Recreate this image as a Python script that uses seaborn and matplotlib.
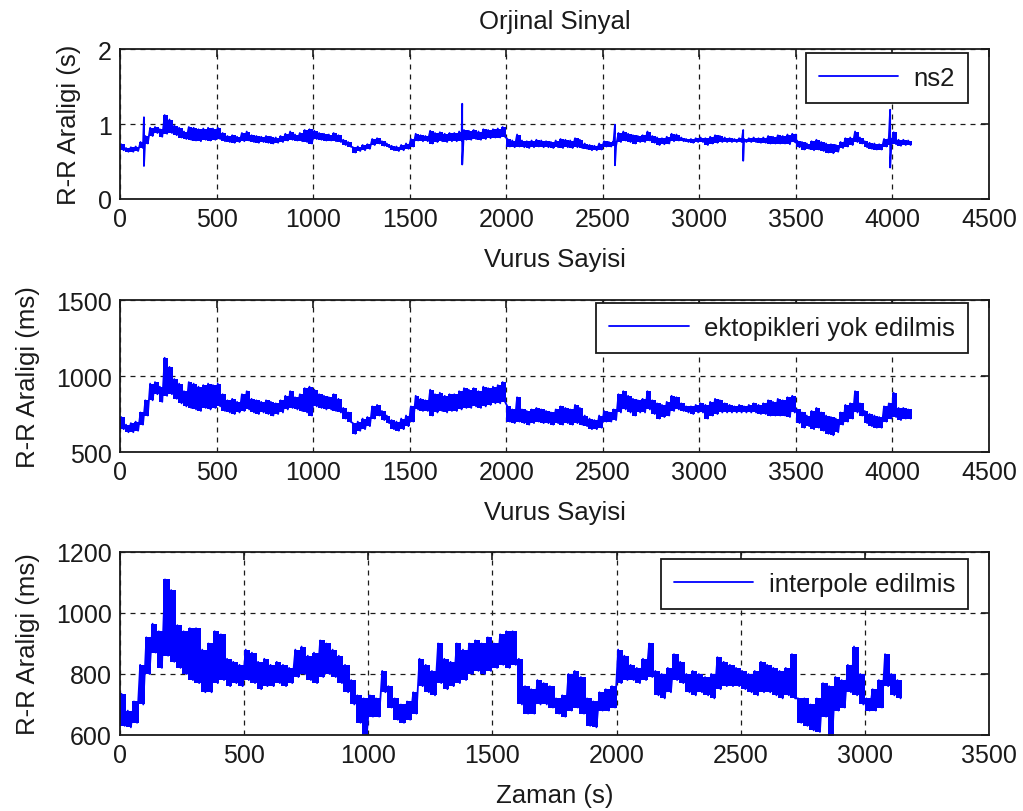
import numpy as np
import pandas as pd
import seaborn as sns
import matplotlib
matplotlib.use("Agg")
import matplotlib.pyplot as plt

# RR intervals (ms) after ectopic removal, band top / bottom per 25-beat bin
rr_hi = [730, 680, 690, 700, 760, 840, 950, 960, 930, 1120, 1060, 980, 950, 900, 960, 950, 930, 940, 950, 940,
         950, 880, 840, 850, 830, 880, 900, 850, 840, 830, 840, 830, 820, 840, 870, 900, 860, 880, 920, 930,
         910, 880, 870, 860, 880, 850, 790, 760, 690, 700, 720, 730, 800, 810, 770, 740, 710, 700, 720, 740,
         800, 870, 850, 840, 910, 880, 890, 870, 880, 880, 900, 920, 910, 920, 900, 930, 920, 930, 940, 960,
         800, 780, 860, 780, 770, 780, 790, 780, 770, 760, 780, 800, 790, 780, 810, 790, 740, 720, 710, 740,
         770, 760, 780, 880, 900, 870, 850, 840, 850, 900, 840, 820, 810, 830, 870, 860, 820, 800, 800, 810,
         820, 810, 830, 850, 840, 820, 810, 800, 810, 800, 810, 820, 810, 820, 840, 830, 850, 840, 860, 870,
         780, 760, 740, 770, 790, 760, 740, 730, 720, 760, 810, 820, 900, 820, 770, 750, 740, 730, 800, 820,
         890, 790, 790, 780]
rr_lo = [650, 630, 630, 640, 680, 740, 840, 880, 830, 870, 880, 850, 820, 800, 790, 780, 770, 790, 780, 790,
         800, 770, 760, 750, 760, 770, 780, 760, 750, 760, 750, 740, 750, 760, 780, 790, 780, 770, 760, 740,
         800, 790, 780, 780, 770, 760, 720, 700, 620, 640, 650, 670, 720, 740, 710, 690, 650, 640, 650, 670,
         700, 780, 770, 770, 740, 760, 770, 760, 770, 770, 780, 790, 790, 800, 790, 800, 810, 820, 820, 830,
         700, 690, 700, 690, 680, 690, 700, 690, 690, 680, 690, 680, 690, 680, 690, 680, 670, 650, 650, 660,
         700, 700, 710, 760, 780, 760, 740, 760, 760, 780, 750, 720, 730, 740, 770, 780, 770, 760, 750, 760,
         760, 720, 740, 750, 760, 760, 760, 760, 760, 760, 760, 760, 750, 750, 740, 740, 740, 740, 730, 760,
         690, 660, 670, 650, 660, 640, 620, 610, 630, 680, 700, 720, 760, 740, 690, 670, 660, 660, 700, 720,
         730, 710, 720, 720]

# ectopic beats in the raw ns2 signal (s)
ect_beat = [124, 1772, 2563, 3227, 3500, 3988]
ect_top = [1.09, 1.27, 0.99, 0.92, 0.86, 1.19]
ect_bot = [0.44, 0.46, 0.45, 0.51, 0.75, 0.42]

# interpolated RR (ms) vs time, band top / bottom per 25 s bin
it_hi = [735, 680, 710, 830, 920, 965, 940, 1110, 1075, 960, 940, 950, 950, 880, 900, 940, 930, 850, 840, 830,
         880, 870, 840, 850, 830, 840, 830, 820, 880, 890, 860, 870, 910, 900, 880, 860, 830, 780, 730, 720,
         730, 720, 810, 760, 720, 700, 710, 740, 850, 830, 810, 900, 850, 840, 900, 880, 900, 910, 900, 920,
         900, 930, 940, 940, 850, 760, 750, 780, 770, 760, 720, 730, 800, 810, 790, 720, 710, 740, 750, 760,
         880, 860, 830, 820, 850, 900, 810, 800, 820, 865, 840, 800, 810, 800, 790, 800, 855, 840, 830, 820,
         810, 800, 810, 840, 830, 820, 810, 820, 865, 720, 720, 700, 720, 770, 760, 790, 780, 830, 890, 800,
         720, 750, 780, 865, 800, 780]
it_lo = [630, 625, 640, 700, 800, 870, 820, 860, 840, 820, 800, 780, 770, 740, 740, 770, 780, 760, 770, 760,
         780, 770, 750, 760, 760, 770, 760, 770, 790, 800, 780, 770, 790, 800, 790, 770, 740, 700, 640, 600,
         660, 660, 740, 690, 650, 640, 650, 670, 760, 740, 730, 770, 750, 760, 770, 780, 800, 810, 800, 810,
         820, 830, 820, 830, 700, 670, 670, 700, 700, 690, 670, 660, 680, 690, 670, 630, 625, 680, 680, 690,
         770, 780, 780, 770, 780, 790, 730, 720, 740, 780, 770, 740, 730, 740, 730, 720, 750, 760, 760, 760,
         750, 740, 730, 740, 740, 730, 720, 730, 720, 640, 630, 615, 610, 660, 595, 680, 690, 740, 730, 700,
         680, 680, 690, 760, 730, 720]


def band(hi, lo, step):
    start = np.arange(len(hi)) * step
    x = np.column_stack([start + step * 0.25, start + step * 0.75]).ravel()
    y = np.column_stack([hi, lo]).ravel()
    return pd.DataFrame({"x": x, "y": y})


def draw(ax, hi, lo, step, label, scale=1.0, extra=None):
    hi = np.asarray(hi) * scale
    lo = np.asarray(lo) * scale
    df = band(hi, lo, step)
    if extra is not None:
        df = pd.concat([df, extra]).sort_values("x", kind="mergesort")
    edges = np.arange(len(hi) + 1) * step
    # dense beat-to-beat samples: fill each bin between its min and max
    ax.fill_between(edges, np.append(lo, lo[-1]), np.append(hi, hi[-1]), step="post", color=blue, lw=0)
    sns.lineplot(data=df, x="x", y="y", ax=ax, color=blue, lw=1.3, estimator=None, sort=False,
                 label=label)


sns.set_theme(style="white")
plt.rcParams["font.family"] = ["Liberation Sans", "DejaVu Sans"]
plt.rcParams["font.size"] = 18
plt.rcParams["text.color"] = "k"
plt.rcParams["axes.labelcolor"] = "k"
blue = "#0000ff"

spikes = pd.DataFrame({"x": np.repeat(ect_beat, 2) + np.tile([0.0, 0.01], len(ect_beat)),
                       "y": np.column_stack([ect_top, ect_bot]).ravel()})

fig = plt.figure(figsize=(10.23, 8.12), dpi=100)
ax1 = fig.add_axes([0.1173, 0.7537, 0.8495, 0.1847])
ax2 = fig.add_axes([0.1173, 0.4421, 0.8495, 0.1872])
ax3 = fig.add_axes([0.1173, 0.0936, 0.8495, 0.2254])

draw(ax1, rr_hi, rr_lo, 25, "ns2", scale=0.001, extra=spikes)
draw(ax2, rr_hi, rr_lo, 25, "ektopikleri yok edilmis")
draw(ax3, it_hi, it_lo, 25, "interpole edilmis")

ax1.set(xlim=(0, 4500), ylim=(0, 2), yticks=[0, 1, 2], xticks=range(0, 4501, 500))
ax2.set(xlim=(0, 4500), ylim=(500, 1500), yticks=[500, 1000, 1500], xticks=range(0, 4501, 500))
ax3.set(xlim=(0, 3500), ylim=(600, 1200), yticks=range(600, 1201, 200), xticks=range(0, 3501, 500))

fs = 18.5
ax1.set_title("Orjinal Sinyal", fontsize=fs, pad=15)
ax1.set_xlabel("Vurus Sayisi", fontsize=fs)
ax1.set_ylabel("R-R Araligi (s)", fontsize=fs)
ax2.set_xlabel("Vurus Sayisi", fontsize=fs)
ax2.set_ylabel("R-R Araligi (ms)", fontsize=fs)
ax3.set_xlabel("Zaman (s)", fontsize=fs)
ax3.set_ylabel("R-R Araligi (ms)", fontsize=fs)

legend_tops = [0.973, 0.980, 0.962]
for ax, top in zip([ax1, ax2, ax3], legend_tops):
    ax.grid(True, color="k", linestyle=(0, (4, 4)), linewidth=0.9)
    ax.tick_params(direction="in", top=True, right=True, length=6, width=1.2, colors="k", pad=6,
                   labelsize=18)
    for s in ax.spines.values():
        s.set_color("k")
        s.set_linewidth(1.3)
    ax.xaxis.labelpad = 11
    leg = ax.legend(loc="upper right", bbox_to_anchor=(0.9758, top), borderaxespad=0, borderpad=0.5,
                    handlelength=3.1, handletextpad=0.6, fancybox=False, framealpha=1,
                    edgecolor="k", fontsize=fs)
    leg.get_frame().set_linewidth(1.3)
    leg.get_lines()[0].set_linewidth(1.3)

ax1.yaxis.set_label_coords(-0.045, 0.5)
ax2.yaxis.set_label_coords(-0.092, 0.5)
ax3.yaxis.set_label_coords(-0.092, 0.5)

fig.savefig("out.png", dpi=100)
